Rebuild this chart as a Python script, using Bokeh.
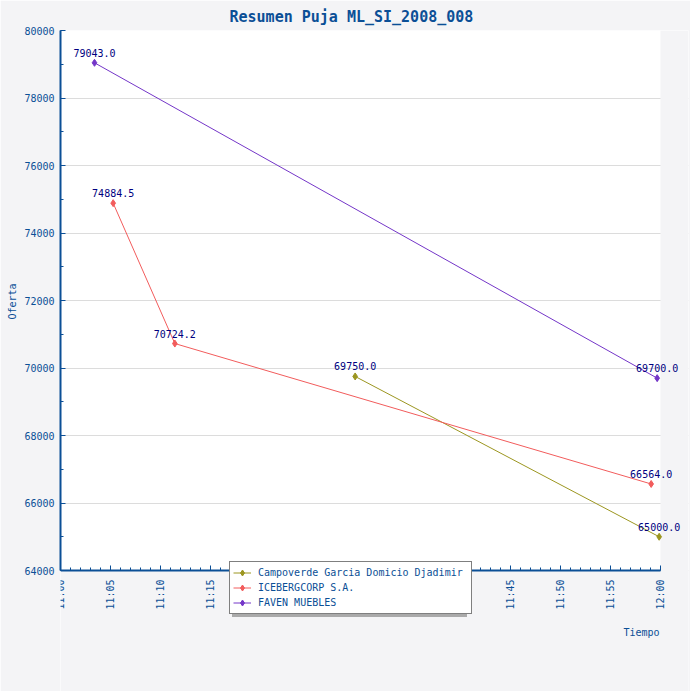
from datetime import datetime
import math
from bokeh.plotting import figure
from bokeh.models import (ColumnDataSource, LabelSet, Legend, LegendItem, FixedTicker,
                          SingleIntervalTicker, DatetimeTickFormatter, Range1d, Label,
                          BoxAnnotation, Title)
from bokeh.core.properties import value
from bokeh.embed import file_html
from bokeh.resources import INLINE

DAY = (2008, 1, 1)


def t(h, m, s=0):
    return datetime(*DAY, h, m, s)


title_text = "Resumen Puja ML_SI_2008_008"
y_label = "Oferta"
x_label = "Tiempo"

series_names = ["Campoverde Garcia Domicio Djadimir", "ICEBERGCORP S.A.", "FAVEN MUEBLES"]
series_colors = ["#9c9620", "#f25c5c", "#7436c8"]

campoverde_times = [t(11, 29, 28), t(11, 59, 52)]
campoverde_values = [69750.0, 65000.0]

iceberg_times = [t(11, 5, 16), t(11, 11, 26), t(11, 59, 4)]
iceberg_values = [74884.5, 70724.2, 66564.0]

faven_times = [t(11, 3, 24), t(11, 59, 40)]
faven_values = [79043.0, 69700.0]

x_start, x_end = t(11, 0), t(12, 0)
y_start, y_end = 64000, 80000
x_major_minutes = 5
x_minor_minutes = 1
y_major_step = 2000

FONT = "DejaVu Sans Mono"
BLUE = "#0b4f96"
NAVY = "#000080"
BG = "#f4f4f6"

# layout: the frame is widened past 12:00 and below 64000 so that the value labels
# and the legend are not clipped; the extra strips are painted with the page colour
PLOT_W, PLOT_H = 600, 540
EXTRA_RIGHT, EXTRA_BELOW = 28, 121
view_x_end = x_end + (x_end - x_start) * EXTRA_RIGHT / PLOT_W
view_y_start = y_start - (y_end - y_start) * EXTRA_BELOW / PLOT_H

EPOCH = datetime(1970, 1, 1)


def ms(dt):
    return (dt - EPOCH).total_seconds() * 1000.0


start_ms, end_ms = ms(x_start), ms(x_end)
major_ticks = []
v = start_ms
while v <= end_ms + 1:
    major_ticks.append(v)
    v += x_major_minutes * 60000
minor_ticks = []
v = start_ms
while v <= end_ms + 1:
    minor_ticks.append(v)
    v += x_minor_minutes * 60000

p = figure(frame_width=PLOT_W + EXTRA_RIGHT, frame_height=PLOT_H + EXTRA_BELOW,
           x_axis_type="datetime",
           x_range=Range1d(x_start, view_x_end), y_range=Range1d(view_y_start, y_end),
           output_backend="svg", toolbar_location=None,
           min_border_left=53, min_border_right=2, min_border_top=23, min_border_bottom=0,
           background_fill_color="white", border_fill_color=BG, outline_line_color=None)

p.title.text = title_text
p.title.align = "left"
p.title.offset = 169
p.title.standoff = 10
p.title.text_font = FONT
p.title.text_font_size = "15px"
p.title.text_font_style = "bold"
p.title.text_color = BLUE

# page-coloured strips right of 12:00 and below 64000
p.add_layout(BoxAnnotation(left=x_end, fill_color=BG, fill_alpha=1, line_color=None,
                           level="underlay"))
p.add_layout(BoxAnnotation(top=y_start, fill_color=BG, fill_alpha=1, line_color=None,
                           level="underlay"))

p.xaxis.ticker = FixedTicker(ticks=major_ticks, minor_ticks=minor_ticks)
p.xaxis.formatter = DatetimeTickFormatter(minutes="%H:%M", hourmin="%H:%M", hours="%H:%M",
                                          minsec="%H:%M", seconds="%H:%M")
p.xaxis.major_label_orientation = math.pi / 2
p.xaxis.bounds = (start_ms, end_ms)
p.xaxis.fixed_location = y_start
p.yaxis.ticker = SingleIntervalTicker(interval=y_major_step, num_minor_ticks=2)
p.yaxis.bounds = (y_start, y_end)

for ax in (p.xaxis, p.yaxis):
    ax.axis_line_color = BLUE
    ax.axis_line_width = 2
    ax.major_tick_line_color = BLUE
    ax.minor_tick_line_color = BLUE
    ax.major_tick_in = 5
    ax.major_tick_out = 0
    ax.minor_tick_in = 3
    ax.minor_tick_out = 0
    ax.major_label_text_font = FONT
    ax.major_label_text_font_size = "10px"
    ax.major_label_text_color = BLUE

p.xaxis.major_label_standoff = 9
p.yaxis.major_label_standoff = 6

p.xgrid.grid_line_color = None
p.ygrid.grid_line_color = "#dcdcdc"
p.ygrid.bounds = (y_start, y_end)

# y-axis title, placed beside the 64000..80000 part of the axis
p.add_layout(Title(text=y_label, align="left", offset=EXTRA_BELOW + 251, standoff=8,
                   text_font=FONT, text_font_size="10px", text_font_style="normal",
                   text_color=BLUE), "left")

p.add_layout(Label(x=x_end, y=y_start, text=x_label, text_align="right",
                   text_baseline="top", x_offset=-1, y_offset=-56, text_font=FONT,
                   text_font_size="10px", text_color=BLUE))

series = [(campoverde_times, campoverde_values),
          (iceberg_times, iceberg_values),
          (faven_times, faven_values)]

items = []
shadow_items = []
for name, color, (xs, ys) in zip(series_names, series_colors, series):
    src = ColumnDataSource(dict(x=xs, y=ys, label=[f"{v:.1f}" for v in ys]))
    ln = p.line("x", "y", source=src, line_color=color, line_width=1)
    sc = p.scatter("x", "y", source=src, marker="diamond", size=7,
                   fill_color=color, line_color=color)
    p.add_layout(LabelSet(x="x", y="y", text="label", source=src, y_offset=6,
                          text_align="center", text_baseline="bottom",
                          text_font=value(FONT), text_font_size="10px", text_color=NAVY))
    items.append(LegendItem(label=name, renderers=[ln, sc]))
    dummy = p.scatter(x=[], y=[], alpha=0)
    shadow_items.append(LegendItem(label=name, renderers=[dummy]))

common = dict(label_text_font=FONT, label_text_font_size="10px", label_height=15,
              label_width=210, glyph_height=15, glyph_width=18, spacing=0, padding=3,
              margin=0, label_standoff=7)
shadow = Legend(items=shadow_items, location=(172, EXTRA_BELOW - 47),
                background_fill_color="#aaaaaa", background_fill_alpha=1,
                border_line_color=None, label_text_alpha=0, **common)
legend = Legend(items=items, location=(169, EXTRA_BELOW - 44), background_fill_color="white",
                background_fill_alpha=1, border_line_color="black", border_line_width=1,
                label_text_color=BLUE, **common)
p.add_layout(shadow, "center")
p.add_layout(legend, "center")

open("out.html", "w").write(file_html(p, INLINE))
